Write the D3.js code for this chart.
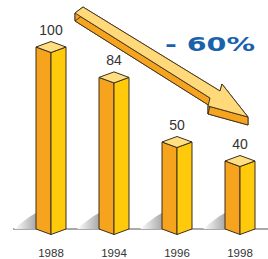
<!DOCTYPE html>
<html>
<head>
<meta charset="utf-8">
<script src="https://cdn.jsdelivr.net/npm/d3@7"></script>
<style>
  body { margin: 0; background: #fff; }
  svg { display: block; }
</style>
</head>
<body>
<div id="chart"></div>
<script>
// data
var years = ["1988", "1994", "1996", "1998"];
var values = [100, 84, 50, 40];
var changeLabel = "- 60%";

var w = 268, h = 259;
var baseY = 229;      // floor line
var halfW = 15;       // half width of a bar (one face)
var dip = 5.5;        // vertical offset of the iso corners

var svg = d3.select("#chart").append("svg").attr("width", w).attr("height", h);

var x = d3.scalePoint().domain(years).range([51, 240]);
var y = d3.scaleLinear().domain([0, 100]).range([237, 47]);

var data = years.map(function(d, i){ return {year: d, value: values[i]}; });

// shadow gradient
var defs = svg.append("defs");
var grad = defs.append("linearGradient").attr("id", "shade")
	.attr("x1", "0").attr("x2", "1").attr("y1", "0").attr("y2", "0");
grad.append("stop").attr("offset", "0").attr("stop-color", "#fff");
grad.append("stop").attr("offset", "1").attr("stop-color", "#a9a9a9");

// floor line
svg.append("line")
	.attr("x1", 13).attr("x2", w).attr("y1", baseY).attr("y2", baseY)
	.attr("stroke", "#8c8c8c").attr("stroke-width", 1.5);

var bars = svg.selectAll("g.bar").data(data).enter().append("g").attr("class", "bar");

// soft shadow left of each bar
bars.append("path")
	.attr("d", function(d){
		var l = x(d.year) - halfW;
		return "M" + (l - 22) + "," + baseY + " Q" + (l - 8) + "," + (baseY - 12) + " " + l + "," + (baseY - 16) + " L" + l + "," + baseY + "Z";
	})
	.attr("fill", "url(#shade)");

var edge = "#3b2f1f";

// left face
bars.append("path")
	.attr("d", function(d){
		var c = x(d.year), t = y(d.value);
		return "M" + (c - halfW) + "," + t + " L" + c + "," + (t + dip) + " L" + c + "," + (baseY + dip) + " L" + (c - halfW) + "," + baseY + "Z";
	})
	.attr("fill", "#f6a31e").attr("stroke", edge).attr("stroke-width", 1).attr("stroke-linejoin", "round");

// right face
bars.append("path")
	.attr("d", function(d){
		var c = x(d.year), t = y(d.value);
		return "M" + c + "," + (t + dip) + " L" + (c + halfW) + "," + t + " L" + (c + halfW) + "," + baseY + " L" + c + "," + (baseY + dip) + "Z";
	})
	.attr("fill", "#ffca0c").attr("stroke", edge).attr("stroke-width", 1).attr("stroke-linejoin", "round");

// top face
bars.append("path")
	.attr("d", function(d){
		var c = x(d.year), t = y(d.value);
		return "M" + (c - halfW) + "," + t + " L" + c + "," + (t - dip) + " L" + (c + halfW) + "," + t + " L" + c + "," + (t + dip) + "Z";
	})
	.attr("fill", "#ffdf80").attr("stroke", edge).attr("stroke-width", 1).attr("stroke-linejoin", "round");

// value labels
bars.append("text")
	.attr("x", function(d){ return x(d.year); })
	.attr("y", function(d){ return y(d.value) - 12; })
	.attr("text-anchor", "middle")
	.attr("font-family", "Liberation Sans, Arial, sans-serif")
	.attr("font-size", 14)
	.attr("fill", "#333")
	.text(function(d){ return d.value; });

// year labels
bars.append("text")
	.attr("x", function(d){ return x(d.year); })
	.attr("y", 257)
	.attr("text-anchor", "middle")
	.attr("font-family", "Liberation Sans, Arial, sans-serif")
	.attr("font-size", 11.5)
	.attr("fill", "#333")
	.text(function(d){ return d.year; });

// 3d trend arrow: top outline, extruded downwards
var arrowTop = [[83,7],[220,91],[222,84],[248,117],[208,106],[210,98],[75,13]];
var depth = 8;
var arrow = svg.append("g");
var line = d3.line();
var shifted = arrowTop.map(function(p){ return [p[0], p[1] + depth]; });
arrow.append("path").attr("d", line(shifted) + "Z")
	.attr("fill", "#f6a31e").attr("stroke", edge).attr("stroke-width", 0.9);
for (var i = 0; i < arrowTop.length; i++){
	var a = arrowTop[i], b = arrowTop[(i + 1) % arrowTop.length];
	arrow.append("path")
		.attr("d", line([a, b, [b[0], b[1] + depth], [a[0], a[1] + depth]]) + "Z")
		.attr("fill", "#f6a31e").attr("stroke", edge).attr("stroke-width", 0.9).attr("stroke-linejoin", "round");
}
arrow.append("path").attr("d", line(arrowTop) + "Z")
	.attr("fill", "#ffd97a").attr("stroke", edge).attr("stroke-width", 0.9).attr("stroke-linejoin", "round");

// change label
svg.append("text")
	.attr("x", 165).attr("y", 51)
	.attr("font-family", "DejaVu Sans, sans-serif")
	.attr("font-weight", "bold")
	.attr("font-size", 20)
	.attr("textLength", 90)
	.attr("lengthAdjust", "spacingAndGlyphs")
	.attr("fill", "#1a62ab")
	.text(changeLabel);
</script>
</body>
</html>
